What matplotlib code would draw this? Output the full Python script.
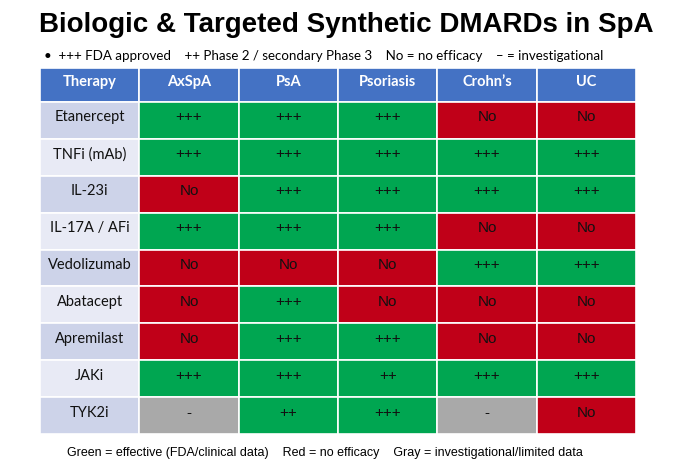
import matplotlib.pyplot as plt
from matplotlib.patches import Rectangle

# --- Data ---
therapies = ["Etanercept", "TNFi (mAb)", "IL-23i", "IL-17A / AFi", "Vedolizumab",
             "Abatacept", "Apremilast", "JAKi", "TYK2i"]
indications = ["AxSpA", "PsA", "Psoriasis", "Crohn\u2019s", "UC"]
ratings = [
    ["+++", "+++", "+++", "No", "No"],
    ["+++", "+++", "+++", "+++", "+++"],
    ["No", "+++", "+++", "+++", "+++"],
    ["+++", "+++", "+++", "No", "No"],
    ["No", "No", "No", "+++", "+++"],
    ["No", "+++", "No", "No", "No"],
    ["No", "+++", "+++", "No", "No"],
    ["+++", "+++", "++", "+++", "+++"],
    ["-", "++", "+++", "-", "No"],
]

title = "Biologic & Targeted Synthetic DMARDs in SpA"
legend_line = ("\u2022  +++ FDA approved    ++ Phase 2 / secondary Phase 3    "
               "No = no efficacy    \u2013 = investigational")
footer = ("Green = effective (FDA/clinical data)    Red = no efficacy    "
          "Gray = investigational/limited data")

# --- Colours ---
GREEN = "#00A651"
RED = "#C00018"
GRAY = "#A9A9A9"
BLUE = "#4472C4"
LABEL_DARK = "#CDD3E9"
LABEL_LIGHT = "#E8EAF5"

def cell_color(v):
    if v.startswith("+"):
        return GREEN
    if v == "No":
        return RED
    return GRAY

# --- Layout (pixel coordinates) ---
W, H = 680, 467
left, right = 40, 636
head_top, head_bot = 68, 102
tbl_bot = 434
ncol = len(indications) + 1
col_w = (right - left) / ncol
row_h = (tbl_bot - head_bot) / len(therapies)

fig = plt.figure(figsize=(W / 100, H / 100), dpi=100)
ax = fig.add_axes([0, 0, 1, 1])
ax.set_xlim(0, W)
ax.set_ylim(H, 0)
ax.axis("off")

ax.text(346, 25, title, ha="center", va="center", fontsize=20,
        fontweight="bold", family=["Liberation Sans", "DejaVu Sans"])
ax.text(44, 56, legend_line, ha="left", va="center", fontsize=9.6,
        family=["Lato", "DejaVu Sans"])

# header
headers = ["Therapy"] + indications
for j, h in enumerate(headers):
    x0 = left + j * col_w
    ax.add_patch(Rectangle((x0, head_top), col_w, head_bot - head_top,
                           facecolor=BLUE, edgecolor="white", lw=1.2))
    ax.text(x0 + col_w / 2, head_top + 0.42 * (head_bot - head_top), h,
            ha="center", va="center", color="white", fontsize=10.5,
            fontweight="bold", family="Lato")

# body
for i, (name, row) in enumerate(zip(therapies, ratings)):
    y0 = head_bot + i * row_h
    ty = y0 + 0.42 * row_h
    ax.add_patch(Rectangle((left, y0), col_w, row_h,
                           facecolor=LABEL_DARK if i % 2 == 0 else LABEL_LIGHT,
                           edgecolor="white", lw=1.2))
    ax.text(left + col_w / 2, ty, name, ha="center", va="center",
            fontsize=10.5, family="Lato", color="#111111")
    for j, v in enumerate(row):
        x0 = left + (j + 1) * col_w
        ax.add_patch(Rectangle((x0, y0), col_w, row_h, facecolor=cell_color(v),
                               edgecolor="white", lw=1.2))
        ax.text(x0 + col_w / 2, ty, v, ha="center", va="center",
                fontsize=11, family="Liberation Sans", color="#111111")

ax.text(325, 453, footer, ha="center", va="center", fontsize=9,
        family="Liberation Sans")

fig.savefig("out.png", dpi=100)
